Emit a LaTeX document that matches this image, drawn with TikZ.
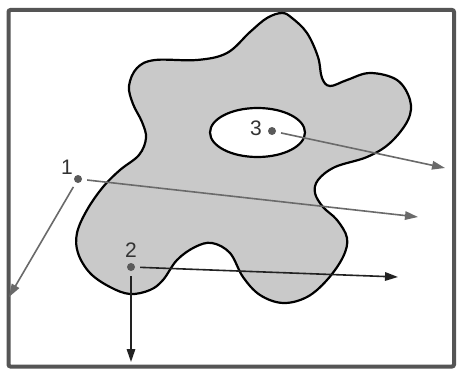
\documentclass[tikz,border=0pt]{standalone}
\usepackage{fontspec}
\setmainfont{Liberation Sans}
\usetikzlibrary{arrows.meta}
\definecolor{framec}{HTML}{555555}
\definecolor{blobfill}{HTML}{C9C9C9}
\definecolor{lightarrow}{HTML}{6A6A6A}
\definecolor{darkarrow}{HTML}{222222}
\definecolor{dotc}{HTML}{5A5A5A}
\definecolor{labelc}{HTML}{333333}
\tikzset{
  pt/.style={circle,fill=dotc,inner sep=0pt,minimum size=8pt},
  lab/.style={font=\fontsize{21}{21}\selectfont,text=labelc,inner sep=0pt},
  ray/.style={line width=1.6pt,-{Triangle[length=13pt,width=8.5pt]},shorten <=5pt},
  grayray/.style={ray,draw=lightarrow,fill=lightarrow},
  darkray/.style={ray,draw=darkarrow,fill=darkarrow},
}
\begin{document}
\begin{tikzpicture}[x=1pt,y=-1pt]
\useasboundingbox (0,0) rectangle (457,369);
\fill[white] (0,0) rectangle (457,369);
\draw[framec,line width=4pt,rounded corners=2pt] (8.5,10) rectangle (454,366.5);
% blob
\draw[line width=2.2pt,fill=blobfill] plot[smooth cycle,tension=0.6] coordinates {
(282,13) (292,18) (307,33) (318,57) (322,78) (330,86) (347,80) (370,73) (397,80) (410,100) (408,120) (390,143) (367,157) (335,167) (318,180) (315,193) (323,207) (337,220) (347,238) (343,257) (327,280) (307,297) (283,303) (260,295) (243,277) (230,253) (212,243) (195,247) (177,260) (163,280) (150,290) (130,294) (110,287) (90,273) (78,253) (77,233) (87,210) (103,187) (120,170) (139,155) (146,138) (142,122) (133,104) (129,86) (137,68) (155,60) (197,60) (227,53) (250,32) (267,18)};
% hole
\draw[line width=2.2pt,fill=white] (257.5,132.5) ellipse [x radius=47.5,y radius=24.5];
% points
\node[pt] (p1) at (78,179) {};
\node[pt] (p2) at (131,267) {};
\node[pt] (p3) at (272,131) {};
\node[lab] (l1) at (67,167) {1};
\node[lab] (l2) at (131,250) {2};
\node[lab] (l3) at (256,128) {3};
% ends
\coordinate (e3) at (445,168);
\coordinate (e1a) at (418,217);
\coordinate (e1b) at (9,297);
\coordinate (e2a) at (398,277);
\coordinate (e2b) at (131,362);
\draw[grayray] (p3) -- (e3);
\draw[grayray] (p1) -- (e1a);
\draw[grayray] (p1) -- (e1b);
\draw[darkray] (p2) -- (e2a);
\draw[darkray] (p2) -- (e2b);
\end{tikzpicture}
\end{document}
